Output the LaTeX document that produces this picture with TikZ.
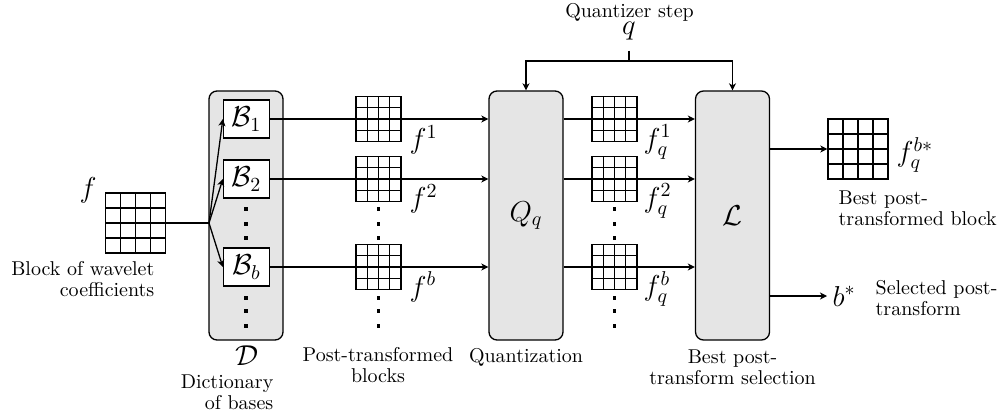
\documentclass[tikz,border=0pt]{standalone}
\usetikzlibrary{arrows.meta,calc}
\tikzset{
  gridlines/.style={path picture={
    \foreach \t in {0.25,0.5,0.75}{
      \draw[line width=0.6pt] ($(path picture bounding box.south west)!\t!(path picture bounding box.south east)$) -- ($(path picture bounding box.north west)!\t!(path picture bounding box.north east)$);
      \draw[line width=0.6pt] ($(path picture bounding box.south west)!\t!(path picture bounding box.north west)$) -- ($(path picture bounding box.south east)!\t!(path picture bounding box.north east)$);
    }}},
  blk/.style={draw, line width=0.65pt, fill=white, minimum size=#1, inner sep=0pt, gridlines},
  blk/.default=22.5pt,
  arr/.style={-{Stealth[length=3.5pt,width=3.5pt,inset=1pt]}},
  bigbox/.style={draw, rounded corners=4pt, fill=gray!20, minimum width=37pt, minimum height=124.5pt, inner sep=0pt, font=\Large},
  basis/.style={draw, fill=white, minimum width=23pt, minimum height=19pt, inner sep=0pt, font=\Large},
  mlbl/.style={font=\Large, inner sep=0pt},
  txt/.style={font=\fontsize{10pt}{10.5pt}\selectfont, inner sep=0pt},
  dotmark/.style={fill=black}
}
\begin{document}
\begin{tikzpicture}[x=0.5pt,y=-0.5pt,line width=0.65pt]
\useasboundingbox (0,0) rectangle (1005,417);

% input block
\node[blk=30pt] (gin) at (135.5,223) {};
\node[mlbl] (lf) at (88,190) {$f$};
\node[txt, align=right, anchor=east] (tin) at (155,279) {Block of wavelet\\coefficients};

% dictionary
\node[bigbox] (D) at (246,215.5) {};
\node[basis] (B1) at (246.5,119) {$\mathcal{B}_1$};
\node[basis] (B2) at (246.5,179) {$\mathcal{B}_2$};
\node[basis] (Bb) at (246.5,267) {$\mathcal{B}_b$};
\coordinate (br) at (209,223);
\draw (gin.east) -- (br);
\draw[arr] (br) -- (B1.west);
\draw[arr] (br) -- (B2.west);
\draw[arr] (br) -- (Bb.west);
\node[font=\Large] (tD) at (247,356) {$\mathcal{D}$};
\node[txt, align=right, anchor=east] (tdict) at (274,392.5) {Dictionary\\of bases};

% quantizer and selection boxes
\node[bigbox] (Q) at (526,215.5) {$Q_q$};
\node[bigbox] (L) at (732.5,215.5) {$\mathcal{L}$};

% connections
\draw[arr] (B1.east) -- (B1.east -| Q.west);
\draw[arr] (B2.east) -- (B2.east -| Q.west);
\draw[arr] (Bb.east) -- (Bb.east -| Q.west);
\draw[arr] (Q.east |- B1.east) -- (L.west |- B1.east);
\draw[arr] (Q.east |- B2.east) -- (L.west |- B2.east);
\draw[arr] (Q.east |- Bb.east) -- (L.west |- Bb.east);

% post-transformed blocks
\node[blk] (m1) at (378.5,119) {};
\node[blk] (m2) at (378.5,179) {};
\node[blk] (mb) at (378.5,267) {};
\node[mlbl, anchor=west] (l1) at (409,140) {$f^1$};
\node[mlbl, anchor=west] (l2) at (409,199) {$f^2$};
\node[mlbl, anchor=west] (lb) at (409,287) {$f^b$};
\node[txt, align=center] (tpt) at (378,365.5) {Post-transformed\\blocks};

% quantized blocks
\node[blk] (r1) at (614.5,119) {};
\node[blk] (r2) at (614.5,179) {};
\node[blk] (rb) at (614.5,267) {};
\node[mlbl, anchor=west] (q1) at (643,142) {$f_q^1$};
\node[mlbl, anchor=west] (q2) at (643,201) {$f_q^2$};
\node[mlbl, anchor=west] (qb) at (643,289) {$f_q^b$};
\node[txt] (tq) at (526,357) {Quantization};
\node[txt, align=center] (tbs) at (732.5,367) {Best post-\\transform selection};

% dots
\foreach \x in {246,378.5,614.5}
  \foreach \y in {209,224,238,298,311,326}
    \fill[dotmark] (\x-1.6,\y-1.6) rectangle (\x+1.6,\y+1.6);

% quantizer step
\node[txt] (qs) at (629.5,12) {Quantizer step};
\node[mlbl] (qn) at (629,31) {$q$};
\coordinate (qj) at (629,61);
\draw ([yshift=-5pt]qn.south) -- (qj);
\draw[arr] (qj) -| (Q.north);
\draw[arr] (qj) -| (L.north);

% outputs
\node[blk=30pt] (gout) at (858,149) {};
\draw[arr] (L.east |- gout.west) -- (gout.west);
\node[mlbl, anchor=west] (lbest) at (896,155) {$f_q^{b*}$};
\node[txt, align=left, anchor=west] (tbb) at (838,208.5) {Best post-\\transformed block};
\node[mlbl, anchor=west, inner sep=2.5pt] (bs) at (827,296) {$b^*$};
\draw[arr] (L.east |- bs.west) -- (bs.west);
\node[txt, align=left, anchor=west] (tsel) at (875,298) {Selected post-\\transform};
\end{tikzpicture}
\end{document}
